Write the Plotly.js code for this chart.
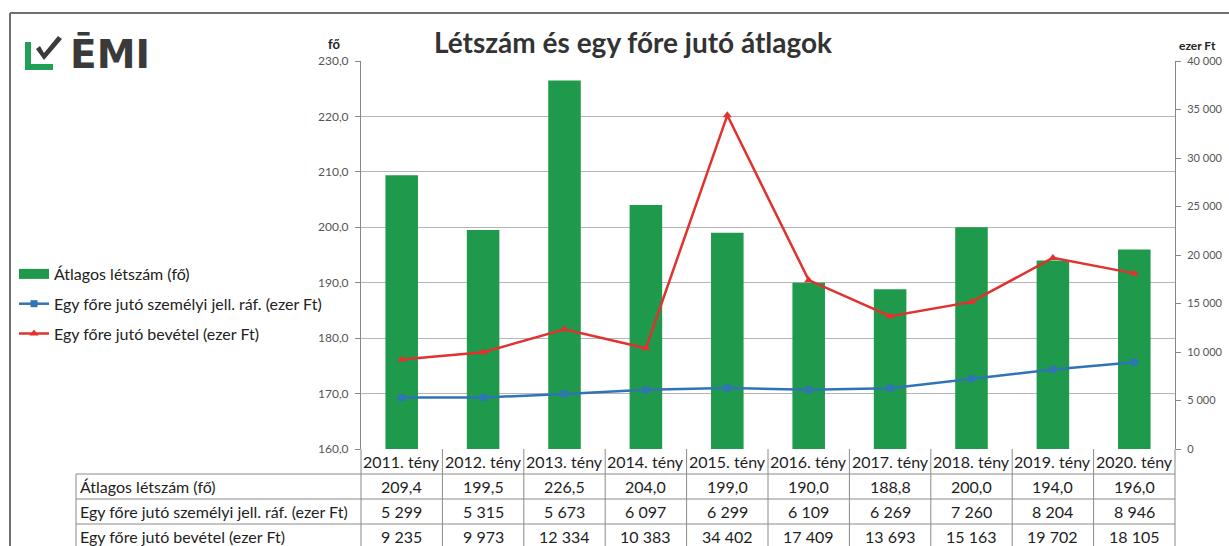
<!DOCTYPE html>
<html>
<head>
<meta charset="utf-8">
<script src="https://cdn.plot.ly/plotly-3.0.1.min.js"></script>
<style>html,body{margin:0;padding:0;background:#fff;}#chart{width:1229px;height:546px;}</style>
</head>
<body>
<div id="chart"></div>
<script>
// ---- data ----
const categories = ["2011. tény","2012. tény","2013. tény","2014. tény","2015. tény","2016. tény","2017. tény","2018. tény","2019. tény","2020. tény"];
const letszam = [209.4,199.5,226.5,204.0,199.0,190.0,188.8,200.0,194.0,196.0];
const szemelyi = [5299,5315,5673,6097,6299,6109,6269,7260,8204,8946];
const bevetel = [9235,9973,12334,10383,34402,17409,13693,15163,19702,18105];
const seriesNames = ["Átlagos létszám (fő)","Egy főre jutó személyi jell. ráf. (ezer Ft)","Egy főre jutó bevétel (ezer Ft)"];
const titleText = "Létszám és egy főre jutó átlagok";

// ---- geometry helpers (pixel -> paper) ----
const W = 1229, H = 546;
const PL = 361, PR = 1175, PT = 61, PB = 449;
const X = px => (px - PL) / (PR - PL);
const Y = py => (PB - py) / (PB - PT);

const fmt1 = v => v.toFixed(1).replace('.', ',');
const fmtInt = v => String(v).replace(/\B(?=(\d{3})+(?!\d))/g, ' ');

const FONT = "Lato, 'Open Sans', sans-serif";
const green = '#1f9a4c', blue = '#2f74b5', red = '#e0322e';

const traces = [
  {type:'bar', x:categories, y:letszam, name:seriesNames[0], marker:{color:green}, width:0.4, yaxis:'y', hoverinfo:'skip', showlegend:false},
  // legend-only entry drawn as a wide green swatch
  {type:'scatter', mode:'lines', x:[null], y:[null], name:seriesNames[0], line:{color:green, width:10}, yaxis:'y', hoverinfo:'skip', legendgroup:'a', legendrank:1},
  {type:'scatter', mode:'lines+markers', x:categories, y:szemelyi, name:seriesNames[1], yaxis:'y2', legendgroup:'b', legendrank:2,
   line:{color:blue, width:2.5}, marker:{symbol:'square', size:7, color:blue}, hoverinfo:'skip'},
  {type:'scatter', mode:'lines+markers', x:categories, y:bevetel, name:seriesNames[2], yaxis:'y2', legendgroup:'c', legendrank:3,
   line:{color:red, width:2.5}, marker:{symbol:'triangle-up', size:8, color:red}, hoverinfo:'skip'}
];

const shapes = [];
const annotations = [];
const lineC = '#8a8a8a';

// outer frame
shapes.push({type:'line', xref:'paper', yref:'paper', x0:X(10), x1:X(W+5), y0:Y(13), y1:Y(13), line:{color:'#6f6f6f', width:2}});
shapes.push({type:'line', xref:'paper', yref:'paper', x0:X(10), x1:X(10), y0:Y(13), y1:Y(H+5), line:{color:'#6f6f6f', width:2}});

// table
const n = categories.length;
const colW = (PR - PL) / n;
const rowTop = [449, 474, 499, 524];
const rowH = 25;
shapes.push({type:'line', xref:'paper', yref:'paper', x0:X(76), x1:X(PR), y0:Y(474), y1:Y(474), line:{color:lineC, width:1}});
shapes.push({type:'line', xref:'paper', yref:'paper', x0:X(76), x1:X(PR), y0:Y(499), y1:Y(499), line:{color:lineC, width:1}});
shapes.push({type:'line', xref:'paper', yref:'paper', x0:X(76), x1:X(PR), y0:Y(524), y1:Y(524), line:{color:lineC, width:1}});
shapes.push({type:'line', xref:'paper', yref:'paper', x0:X(76), x1:X(PR), y0:Y(549), y1:Y(549), line:{color:lineC, width:1}});
shapes.push({type:'line', xref:'paper', yref:'paper', x0:X(76), x1:X(76), y0:Y(474), y1:Y(552), line:{color:lineC, width:1}});
for (let k = 0; k <= n; k++) {
  const px = PL + k * colW;
  shapes.push({type:'line', xref:'paper', yref:'paper', x0:X(px), x1:X(px), y0:Y(449), y1:Y(552), line:{color:lineC, width:1}});
}
const rowsData = [letszam.map(fmt1), szemelyi.map(fmtInt), bevetel.map(fmtInt)];
const tf = {family:FONT, size:16, color:'#1e1e1e'};
categories.forEach((c, i) => {
  const cx = PL + (i + 0.5) * colW;
  annotations.push({xref:'paper', yref:'paper', x:X(cx), y:Y(461.5), text:c, showarrow:false, font:tf, xanchor:'center', yanchor:'middle'});
  rowsData.forEach((r, j) => {
    annotations.push({xref:'paper', yref:'paper', x:X(cx), y:Y(rowTop[j+1] + rowH/2), text:r[i], showarrow:false, font:tf, xanchor:'center', yanchor:'middle'});
  });
});
seriesNames.forEach((s, j) => {
  annotations.push({xref:'paper', yref:'paper', x:X(78), y:Y(rowTop[j+1] + rowH/2), text:s, showarrow:false, font:tf, xanchor:'left', yanchor:'middle'});
});

// axis unit labels
annotations.push({xref:'paper', yref:'paper', x:X(334), y:Y(44), text:'<b>fő</b>', showarrow:false, font:{family:FONT, size:13, color:'#222'}, xanchor:'center', yanchor:'middle'});
annotations.push({xref:'paper', yref:'paper', x:X(1197), y:Y(46), text:'<b>ezer Ft</b>', showarrow:false, font:{family:FONT, size:12, color:'#222'}, xanchor:'center', yanchor:'middle'});

// logo
const P = (px, py) => X(px).toFixed(5) + ',' + Y(py).toFixed(5);
shapes.push({type:'path', xref:'paper', yref:'paper',
  path:`M${P(25,42)} L${P(25,70)} L${P(53,70)} L${P(53,64)} L${P(31,64)} L${P(31,42)} Z`,
  fillcolor:'#1fa055', line:{width:0}});
shapes.push({type:'path', xref:'paper', yref:'paper',
  path:`M${P(36,49)} L${P(40,46)} L${P(44,53)} L${P(58,36)} L${P(62,39)} L${P(44,60)} Z`,
  fillcolor:'#3b3b3b', line:{width:0}});
annotations.push({xref:'paper', yref:'paper', x:X(68), y:Y(54), text:'<b>ĒMI</b>', showarrow:false,
  font:{family:"'DejaVu Sans', sans-serif", size:39, color:'#3a3a3a'}, xanchor:'left', yanchor:'middle'});

const layout = {
  width:W, height:H,
  margin:{l:PL, r:W-PR, t:PT, b:H-PB, pad:0},
  paper_bgcolor:'#fff', plot_bgcolor:'#fff',
  separators:', ',
  font:{family:FONT, color:'#333'},
  title:{text:'<b>'+titleText+'</b>', x:X(633), xref:'paper', xanchor:'center', y:1-43/H, yanchor:'middle', font:{family:FONT, size:28, color:'#333'}},
  showlegend:true,
  legend:{x:X(14), y:Y(257), xanchor:'left', yanchor:'top', bgcolor:'rgba(0,0,0,0)', traceorder:'grouped', tracegroupgap:6,
          font:{family:FONT, size:16, color:'#222'}, itemwidth:30},
  bargap:0.6,
  xaxis:{type:'category', range:[-0.5, n-0.5], showticklabels:false, ticks:'', showgrid:false, zeroline:false, showline:false, fixedrange:true},
  yaxis:{range:[160,230], dtick:10, tickformat:'.1f', ticks:'outside', ticklen:5, tickcolor:'#888', showline:true, linecolor:'#888', linewidth:1,
         showgrid:true, gridcolor:'#b5b5b5', gridwidth:1, zeroline:false, tickfont:{family:FONT, size:12, color:'#555'}, ticklabelstandoff:4, fixedrange:true},
  yaxis2:{range:[0,40000], dtick:5000, tickformat:',d', overlaying:'y', side:'right', ticks:'outside', ticklen:5, tickcolor:'#888', showline:true, linecolor:'#888', linewidth:1,
          showgrid:false, zeroline:false, tickfont:{family:FONT, size:11, color:'#555'}, ticklabelstandoff:4, fixedrange:true},
  shapes:shapes,
  annotations:annotations
};

Plotly.newPlot('chart', traces, layout, {staticPlot:true, displayModeBar:false});
</script>
</body>
</html>
